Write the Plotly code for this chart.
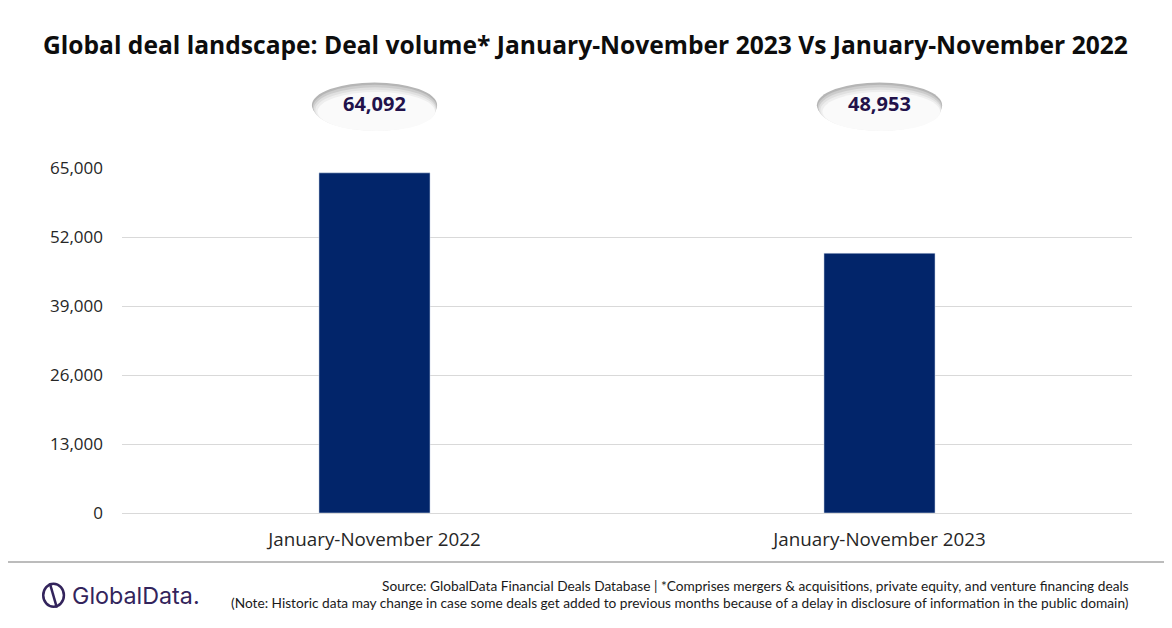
import plotly.graph_objects as go

categories = ["January-November 2022", "January-November 2023"]
deal_volume = [64092, 48953]
tick_values = [0, 13000, 26000, 39000, 52000, 65000]
tick_labels = ["0", "13,000", "26,000", "39,000", "52,000", "65,000"]

title = "Global deal landscape: Deal volume* January-November 2023 Vs January-November 2022"
source = "Source: GlobalData Financial Deals Database | *Comprises mergers &amp; acquisitions, private equity, and venture financing deals"
note = "(Note: Historic data may change in case some deals get added to previous months because of a delay in disclosure of information in the public domain)"

BAR = "#02256a"
FONT = "Lato"
TICKFONT = "Open Sans"
LOGO = "#33245c"

fig = go.Figure()
fig.add_trace(go.Bar(x=categories, y=deal_volume, marker_color=BAR, width=0.22,
                     hoverinfo="x+y"))

shapes = []
annotations = []
# layered ellipses emulate the shaded bubble
bubble_layers = [
    # (dx_left, dx_right, y0, y1, color)
    (0.124, 0.124, 1.116, 1.248, "#b5b5b5"),
    (0.122, 0.123, 1.113, 1.241, "#cccccc"),
    (0.120, 0.122, 1.110, 1.234, "#e0e0e0"),
    (0.117, 0.121, 1.108, 1.227, "#eeeeee"),
    (0.113, 0.120, 1.107, 1.220, "#fafafa"),
]
for i, v in enumerate(deal_volume):
    for dl, dr, y0, y1, col in bubble_layers:
        shapes.append(dict(type="circle", xref="x", yref="paper",
                           x0=i - dl, x1=i + dr, y0=y0, y1=y1,
                           fillcolor=col, line=dict(width=0), layer="above"))
    annotations.append(dict(x=i, y=1.188, xref="x", yref="paper", yanchor="middle",
                            text=f"<b>{v:,}</b>", showarrow=False,
                            font=dict(family=TICKFONT, size=20, color="#22124a")))

# footer line
shapes.append(dict(type="line", xref="paper", yref="paper", x0=-0.13, x1=1.06,
                   y0=-0.142, y1=-0.142, line=dict(color="#a6a6a6", width=1.5)))
# logo icon
shapes.append(dict(type="circle", xref="paper", yref="paper", x0=-0.078, x1=-0.0575,
                   y0=-0.272, y1=-0.205, line=dict(color=LOGO, width=2.5)))
shapes.append(dict(type="line", xref="paper", yref="paper", x0=-0.0715, x1=-0.0645,
                   y0=-0.203, y1=-0.274, line=dict(color=LOGO, width=2.5)))

annotations += [
    dict(x=0.999, y=-0.209, xref="paper", yref="paper", xanchor="right", yanchor="middle",
         text=source, showarrow=False, font=dict(family=FONT, size=13.7, color="#1a1a1a")),
    dict(x=0.999, y=-0.258, xref="paper", yref="paper", xanchor="right", yanchor="middle",
         text=note, showarrow=False, font=dict(family=FONT, size=13.7, color="#1a1a1a")),
    dict(x=-0.051, y=-0.238, xref="paper", yref="paper", xanchor="left", yanchor="middle",
         text="GlobalData.", showarrow=False, font=dict(family="Inter", size=23.3, color=LOGO)),
    dict(x=0.459, y=1.357, xref="paper", yref="paper", xanchor="center", yanchor="middle",
         text=f"<b>{title}</b>", showarrow=False,
         font=dict(family=TICKFONT, size=24.6, color="#0d0d0d")),
]

fig.update_layout(
    width=1172, height=628,
    margin=dict(l=114, r=48, t=160, b=123),
    paper_bgcolor="white", plot_bgcolor="white",
    showlegend=False,
    shapes=shapes,
    annotations=annotations,
    font=dict(family=TICKFONT, size=17, color="#333333"),
)
fig.update_xaxes(type="category", range=[-0.5, 1.5], showgrid=False, showline=False,
                 ticks="", ticklabelstandoff=13,
                 tickfont=dict(family=TICKFONT, size=18.8, color="#262626"))
fig.update_yaxes(range=[0, 65000], tickvals=tick_values, ticktext=tick_labels,
                 showgrid=True, gridcolor="#d9d9d9", gridwidth=1, zeroline=True,
                 zerolinecolor="#d9d9d9", zerolinewidth=1, showline=False, ticks="",
                 ticklabelstandoff=18,
                 tickfont=dict(family=TICKFONT, size=17, color="#262626"))

fig.write_html("out.html")
